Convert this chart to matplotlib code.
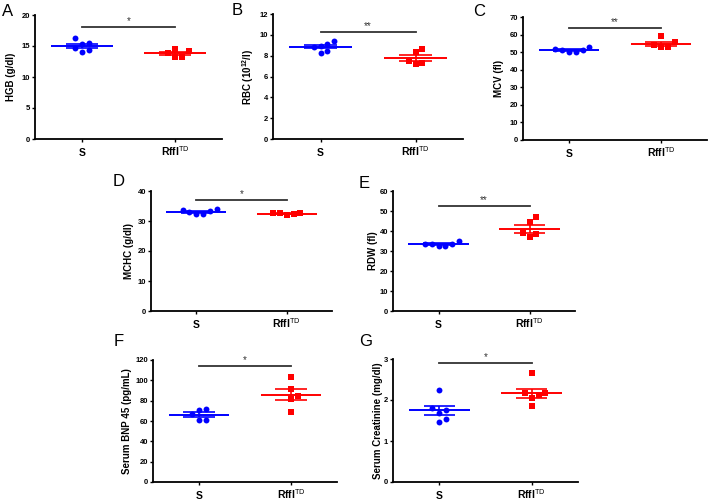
import numpy as np
import matplotlib.pyplot as plt

plt.rcParams['font.family'] = ['Liberation Sans', 'DejaVu Sans']
plt.rcParams['mathtext.fontset'] = 'custom'
plt.rcParams['mathtext.rm'] = 'Liberation Sans'
plt.rcParams['mathtext.bf'] = 'Liberation Sans:bold'

groups = ['S', r'Rffl$^{\mathrm{TD}}$']

hgb_s = [16.25, 15.55, 15.3, 14.6, 14.1, 14.3]
hgb_r = [13.9, 13.2, 14.5, 13.3, 14.2]
rbc_s = [9.45, 8.87, 9.13, 8.94, 8.3, 8.49]
rbc_r = [8.62, 8.33, 7.53, 7.34, 7.18]
mcv_s = [51.9, 51.0, 49.8, 49.8, 51.0, 53.1]
mcv_r = [59.0, 53.8, 52.7, 52.7, 55.9]
mchc_s = [33.6, 33.0, 32.2, 32.4, 33.2, 34.1]
mchc_r = [32.8, 32.7, 32.0, 32.3, 32.7]
rdw_s = [33.7, 33.7, 32.5, 32.7, 33.7, 34.8]
rdw_r = [47.0, 44.5, 39.2, 38.3, 36.8]
bnp_s = [71.9, 70.6, 67.0, 61.2, 61.2]
bnp_r = [103.3, 91.2, 84.7, 81.4, 69.3]
crea_s = [2.24, 1.75, 1.80, 1.69, 1.54, 1.47]
crea_r = [2.65, 2.17, 2.12, 2.16, 2.04, 1.86]

letters = ['A', 'B', 'C', 'D', 'E', 'F', 'G']
ylabels = ['HGB (g/dl)', r'RBC (10$^{\mathbf{12}}$/l)', 'MCV (fl)', 'MCHC (g/dl)',
           'RDW (fl)', 'Serum BNP 45 (pg/mL)', 'Serum Creatinine (mg/dl)']
ymax = [20, 12, 70, 40, 60, 120, 3]
ystep = [5, 2, 10, 10, 10, 20, 1]
sig = ['*', '**', '**', '*', '**', '*', '*']
sig_y = [18.1, 10.3, 64, 37, 52.5, 114, 2.9]
data = [(hgb_s, hgb_r), (rbc_s, rbc_r), (mcv_s, mcv_r), (mchc_s, mchc_r),
        (rdw_s, rdw_r), (bnp_s, bnp_r), (crea_s, crea_r)]

W, H = 708, 501
# axes boxes in pixels: left, top, right, bottom ; letter pos ; ylabel right edge
boxes = [(35, 15, 222, 139), (273, 14, 463, 139), (523, 17, 707, 140),
         (151, 191, 332, 311), (393, 191, 575, 311),
         (153, 360, 337, 482), (393, 359, 578, 482)]
letter_xy = [(2, 4), (232, 3), (473, 4), (113, 174), (359, 176), (114, 334), (359, 334)]
ylab_x = [16, 256, 504, 134, 378, 132, 383]

blue = '#0000FF'
red = '#FF0000'


def swarm(vals, ypx, xpx, d=6.8):
    vals = np.asarray(vals)
    offs = np.zeros(len(vals))
    placed = []
    for i in np.argsort(vals):
        y = vals[i] * ypx
        for k in [0, 1, -1, 2, -2, 3, -3, 4, -4]:
            x = k * d
            if all((x - px) ** 2 + (y - py) ** 2 >= 0.9 * d * d for px, py in placed):
                break
        placed.append((x, y))
        offs[i] = x
    return offs / xpx


fig = plt.figure(figsize=(W / 100, H / 100), dpi=100)

for i in range(7):
    l, t, r, b = boxes[i]
    ax = fig.add_axes([l / W, 1 - b / H, (r - l) / W, (b - t) / H])
    ax.set_xlim(-0.5, 1.5)
    ax.set_ylim(0, ymax[i])
    ypx = (b - t) / ymax[i]
    xpx = (r - l) / 2.0
    for pos, (vals, col, mk) in enumerate(zip(data[i], [blue, red], ['o', 's'])):
        vals = np.asarray(vals)
        m = vals.mean()
        sem = vals.std(ddof=1) / np.sqrt(len(vals))
        offs = swarm(vals, ypx, xpx)
        ax.scatter(pos + offs, vals, marker=mk, s=18 if mk == 'o' else 15,
                   color=col, linewidths=0, zorder=3)
        ax.hlines(m, pos - 0.33, pos + 0.33, color=col, lw=1.4, zorder=4)
        ax.hlines([m - sem, m + sem], pos - 0.17, pos + 0.17, color=col, lw=1.2, zorder=4)
        ax.vlines(pos, m - sem, m + sem, color=col, lw=1.2, zorder=4)
    ax.plot([0, 1], [sig_y[i], sig_y[i]], color='#333333', lw=1.3)
    ax.annotate(sig[i], (0.5, sig_y[i]), xytext=(0, 0.5), textcoords='offset points',
                ha='center', va='bottom', fontsize=7, color='#333333')

    ax.set_xticks([0, 1])
    ax.set_xticklabels(groups, fontsize=7.5, fontweight='bold')
    for lab in ax.get_xticklabels():
        lab.set_verticalalignment('baseline')
    ax.set_yticks(np.arange(0, ymax[i] + ystep[i] / 2, ystep[i]))
    ax.tick_params(axis='y', labelsize=5.5, length=2.4, width=1, pad=1)
    ax.tick_params(axis='x', length=2.4, width=1, pad=9.8)
    for lab in ax.get_yticklabels():
        lab.set_fontweight('bold')
    for s in ['top', 'right']:
        ax.spines[s].set_visible(False)
    for s in ['left', 'bottom']:
        ax.spines[s].set_linewidth(1.3)
    ax.set_ylabel(ylabels[i], fontsize=7, fontweight='bold')
    ax.yaxis.set_label_coords((ylab_x[i] - l) / (r - l), 0.5)

    lx, ly = letter_xy[i]
    fig.text(lx / W, 1 - ly / H, letters[i], fontsize=12, ha='left', va='top')

fig.savefig('out.png', dpi=100)
